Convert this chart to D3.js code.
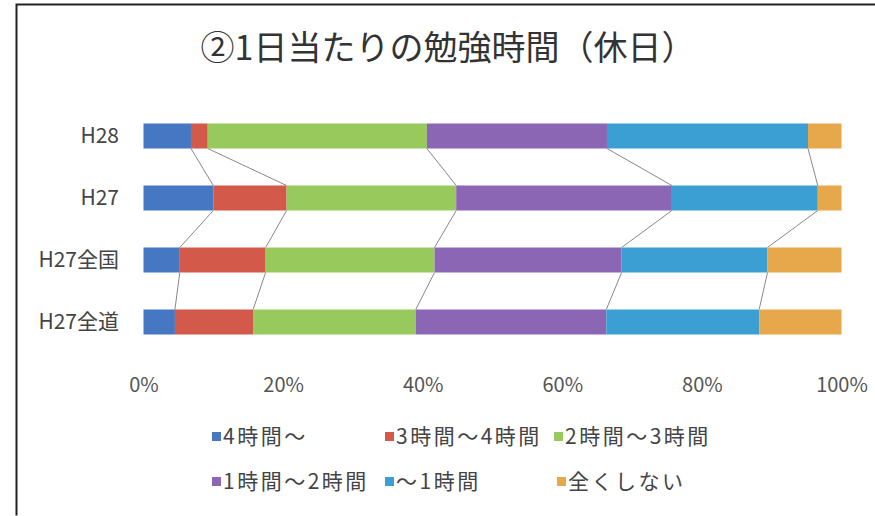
<!DOCTYPE html>
<html><head><meta charset="utf-8">
<script src="https://cdn.jsdelivr.net/npm/d3@7"></script>
<style>body{margin:0;background:#fff}svg{display:block}text{font-family:"Noto Sans CJK JP","Noto Sans",sans-serif}</style>
</head><body><svg id="c" width="875" height="516"></svg>
<script>
const title = "②1日当たりの勉強時間（休日）";
const categories = ["H28", "H27", "H27全国", "H27全道"];
const seriesNames = ["4時間～", "3時間～4時間", "2時間～3時間", "1時間～2時間", "～1時間", "全くしない"];
const colors = ["#4577c3", "#d35a4a", "#97c95c", "#8b66b4", "#3c9fd3", "#e7a84c"];
const v4h = [6.8, 10.0, 5.2, 4.5];
const v3to4 = [2.4, 10.5, 12.3, 11.2];
const v2to3 = [31.4, 24.3, 24.2, 23.3];
const v1to2 = [25.8, 30.9, 26.8, 27.3];
const vUnder1 = [28.8, 20.9, 20.9, 21.9];
const vNone = [4.8, 3.4, 10.6, 11.8];
const tickValues = [0, 20, 40, 60, 80, 100];

const seriesVals = [v4h, v3to4, v2to3, v1to2, vUnder1, vNone];
const rows = categories.map((c, i) => {
  const o = {cat: c};
  seriesNames.forEach((s, j) => o[s] = seriesVals[j][i]);
  return o;
});
const stack = d3.stack().keys(seriesNames).offset(d3.stackOffsetExpand)(rows);

const svg = d3.select("#c");
// frame
svg.append("path").attr("d", "M16.5,515.5 V4.5 H875").attr("fill", "none").attr("stroke", "#222").attr("stroke-width", 2);

svg.append("text").attr("x", 448).attr("y", 60).attr("text-anchor", "middle")
  .attr("font-size", 34).attr("fill", "#333").attr("font-weight", 400).text(title);

const x = d3.scaleLinear().domain([0, 1]).range([143.5, 841.5]);
const y = d3.scalePoint().domain(categories).range([136, 322]);
const bh = 25;

// series lines
const lg = svg.append("g").attr("stroke", "#888").attr("stroke-width", 1).attr("fill", "none");
stack.slice(0, stack.length - 1).forEach(layer => {
  for (let i = 0; i < categories.length - 1; i++) {
    lg.append("line")
      .attr("x1", x(layer[i][1])).attr("y1", y(categories[i]) + bh / 2)
      .attr("x2", x(layer[i + 1][1])).attr("y2", y(categories[i + 1]) - bh / 2);
  }
});

svg.append("g").selectAll("g").data(stack).join("g")
  .attr("fill", (d, i) => colors[i])
  .selectAll("rect").data(d => d).join("rect")
  .attr("x", d => x(d[0])).attr("width", d => x(d[1]) - x(d[0]))
  .attr("y", d => y(d.data.cat) - bh / 2).attr("height", bh);

// category labels
const ya = svg.append("g").attr("transform", "translate(131,0)")
  .call(d3.axisLeft(y).tickSize(0).tickPadding(12));
ya.select(".domain").remove();
ya.selectAll("text").attr("font-size", 21).attr("fill", "#444").attr("font-family", '"Noto Sans CJK JP",sans-serif');

// x axis
const xa = svg.append("g").attr("transform", "translate(0,385)")
  .call(d3.axisBottom(x).tickValues(tickValues.map(t => t / 100)).tickSize(0).tickPadding(0).tickFormat(d => Math.round(d * 100) + "%"));
xa.select(".domain").remove();
xa.selectAll("text").attr("dy", "0.35em").attr("font-size", 20).attr("fill", "#555").attr("font-family", '"Noto Sans CJK JP",sans-serif');

// legend
const legPos = [[212, 437], [385, 437], [554, 437], [212, 482], [385, 482], [557, 482]];
const leg = svg.append("g").selectAll("g").data(seriesNames).join("g")
  .attr("transform", (d, i) => `translate(${legPos[i][0]},${legPos[i][1]})`);
leg.append("rect").attr("x", 0).attr("y", -5).attr("width", 9).attr("height", 9).attr("fill", (d, i) => colors[i]);
leg.append("text").attr("x", 11).attr("y", 0).attr("dy", "0.35em").attr("font-size", 21).attr("letter-spacing", 2.5).attr("fill", "#444").text(d => d);
</script></body></html>
